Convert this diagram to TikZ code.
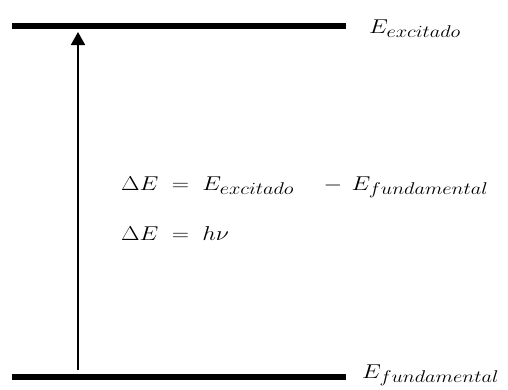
\RequirePackage{fix-cm}
\documentclass[tikz,border=0pt]{standalone}
\usepackage{graphicx}
\DeclareMathSizes{20}{20}{17}{12}
\usetikzlibrary{arrows.meta}
\newcommand{\wide}[1]{\scalebox{1.2}[1]{#1}}
\begin{document}
\begin{tikzpicture}[x=1pt,y=-1pt,
  level/.style={line width=6pt},
  transition/.style={line width=1.8pt,-{Triangle[width=14pt,length=13pt]}},
  lbl/.style={anchor=base west,inner sep=0pt,font=\fontsize{20}{24}\selectfont},
  eq/.style={anchor=base west,inner sep=0pt,font=\fontsize{20}{24}\selectfont}]
\useasboundingbox (0,0) rectangle (508,389);
\coordinate (topL) at (12,26);
\coordinate (topR) at (346,26);
\coordinate (botL) at (12,377);
\coordinate (botR) at (346,377);
\draw[level] (topL) -- (topR);
\draw[level] (botL) -- (botR);
\coordinate (arrS) at (78,370);
\coordinate (arrE) at (78,32);
\draw[transition] (arrS) -- (arrE);
\node[lbl] (exc) at (369,33) {\wide{$E_{excitado}$}};
\node[lbl] (fund) at (362,378) {\wide{$E_{fundamental}$}};
\node[eq] (eq1) at (121,190) {\wide{$\Delta E \;=\; E_{excitado}\quad -\, E_{fundamental}$}};
\node[eq] (eq2) at (121,240) {\wide{$\Delta E \;=\; h\nu$}};
\end{tikzpicture}
\end{document}
